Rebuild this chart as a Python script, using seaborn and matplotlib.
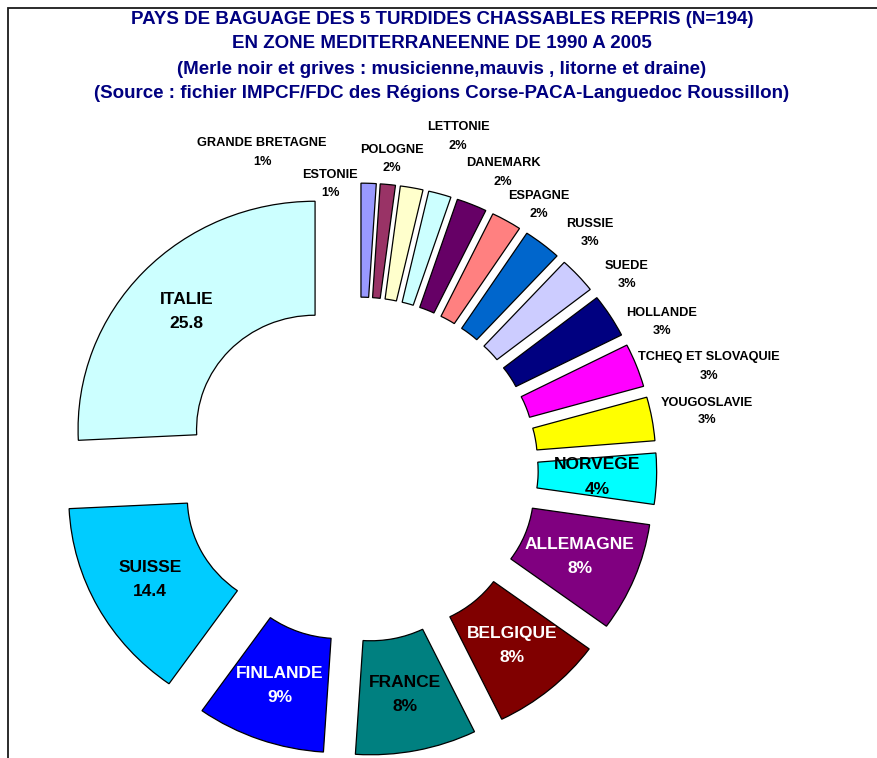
import numpy as np
import matplotlib
matplotlib.use("Agg")
import matplotlib.pyplot as plt
from matplotlib.patches import Rectangle
import seaborn as sns

# data : number of birds per ringing country (N=194), clockwise from 12 o'clock
countries = ["GRANDE BRETAGNE", "ESTONIE", "POLOGNE", "LETTONIE", "DANEMARK",
             "ESPAGNE", "RUSSIE", "SUEDE", "HOLLANDE", "TCHEQ ET SLOVAQUIE",
             "YOUGOSLAVIE", "NORVEGE", "ALLEMAGNE", "BELGIQUE", "FRANCE",
             "FINLANDE", "SUISSE", "ITALIE"]
counts = [2, 2, 3, 3, 4, 4, 5, 5, 6, 6, 6, 7, 15, 15, 16, 17, 28, 50]
decimal_labels = ["SUISSE", "ITALIE"]
inside_labels = ["NORVEGE", "ALLEMAGNE", "BELGIQUE", "FRANCE", "FINLANDE", "SUISSE", "ITALIE"]
white_labels = ["ALLEMAGNE", "BELGIQUE", "FINLANDE"]

colors = sns.color_palette(["#9999FF", "#993366", "#FFFFCC", "#CCFFFF", "#660066",
                            "#FF8080", "#0066CC", "#CCCCFF", "#000080", "#FF00FF",
                            "#FFFF00", "#00FFFF", "#800080", "#800000", "#008080",
                            "#0000FF", "#00CCFF", "#CCFFFF"])

# pixel positions (name line, pct line) of the labels placed outside the ring
outside_pos = {
    "GRANDE BRETAGNE": (262, 143, 162),
    "ESTONIE": (330, 175, 193),
    "POLOGNE": (392, 150, 168),
    "LETTONIE": (458, 127, 146),
    "DANEMARK": (503, 163, 182),
    "ESPAGNE": (539, 196, 214),
    "RUSSIE": (590, 224, 242),
    "SUEDE": (627, 266, 284),
    "HOLLANDE": (662, 313, 331),
    "TCHEQ ET SLOVAQUIE": (709, 357, 376),
    "YOUGOSLAVIE": (707, 403, 420),
}

sns.set_theme(style="white")
plt.rcParams["font.family"] = ["Liberation Sans", "DejaVu Sans"]

W, H = 877, 758
cx, cy = 359, 469.5      # ring centre in pixels
rx, ry = 237, 228        # outer radius in pixels (slightly flattened)

fig = plt.figure(figsize=(W / 100, H / 100), dpi=100)
ax = fig.add_axes([0, 0, 1, 1])

wedges, _ = ax.pie(
    counts,
    colors=colors,
    startangle=90,
    counterclock=False,
    radius=1,
    explode=[0.256] * len(counts),
    wedgeprops=dict(width=0.5, edgecolor="black", linewidth=0.9),
)
ax.set_aspect("auto")
ax.set_xlim(-cx / rx, (W - cx) / rx)
ax.set_ylim((cy - H) / ry, cy / ry)
ax.axis("off")

total = sum(counts)
for w, name, n in zip(wedges, countries, counts):
    pct = 100 * n / total
    pct_txt = f"{pct:.1f}" if name in decimal_labels else f"{pct:.0f}%"
    if name in inside_labels:
        tm = np.deg2rad(0.5 * (w.theta1 + w.theta2))
        x = w.center[0] + 0.75 * np.cos(tm)
        y = w.center[1] + 0.75 * np.sin(tm)
        col = "white" if name in white_labels else "black"
        ax.text(x, y + 0.053, name, ha="center", va="center", fontsize=12.5,
                fontweight="bold", color=col)
        ax.text(x, y - 0.053, pct_txt, ha="center", va="center", fontsize=12.5,
                fontweight="bold", color=col)
    else:
        px, py1, py2 = outside_pos[name]
        fig.text(px / W, 1 - py1 / H, name, ha="center", va="center",
                 fontsize=9.2, fontweight="bold", color="black")
        fig.text(px / W, 1 - py2 / H, pct_txt, ha="center", va="center",
                 fontsize=9.2, fontweight="bold", color="black")

title_lines = [
    "PAYS DE BAGUAGE DES 5 TURDIDES CHASSABLES REPRIS (N=194)",
    "EN ZONE MEDITERRANEENNE DE 1990 A 2005",
    "(Merle noir et grives : musicienne,mauvis , litorne et draine)",
    "(Source : fichier IMPCF/FDC des Régions Corse-PACA-Languedoc Roussillon)",
]
for ty, line in zip([19, 44, 69, 93], title_lines):
    fig.text(442 / W, 1 - ty / H, line, ha="center", va="center",
             fontsize=13.5, fontweight="bold", color="#000080")

# chart frame (only left and top edges are visible)
fig.add_artist(Rectangle((7.5 / W, -0.05), 1.2, 1 - 7.5 / H + 0.05,
                         transform=fig.transFigure, fill=False,
                         edgecolor="#1a1a1a", linewidth=1.3))

fig.savefig("out.png", dpi=100)
